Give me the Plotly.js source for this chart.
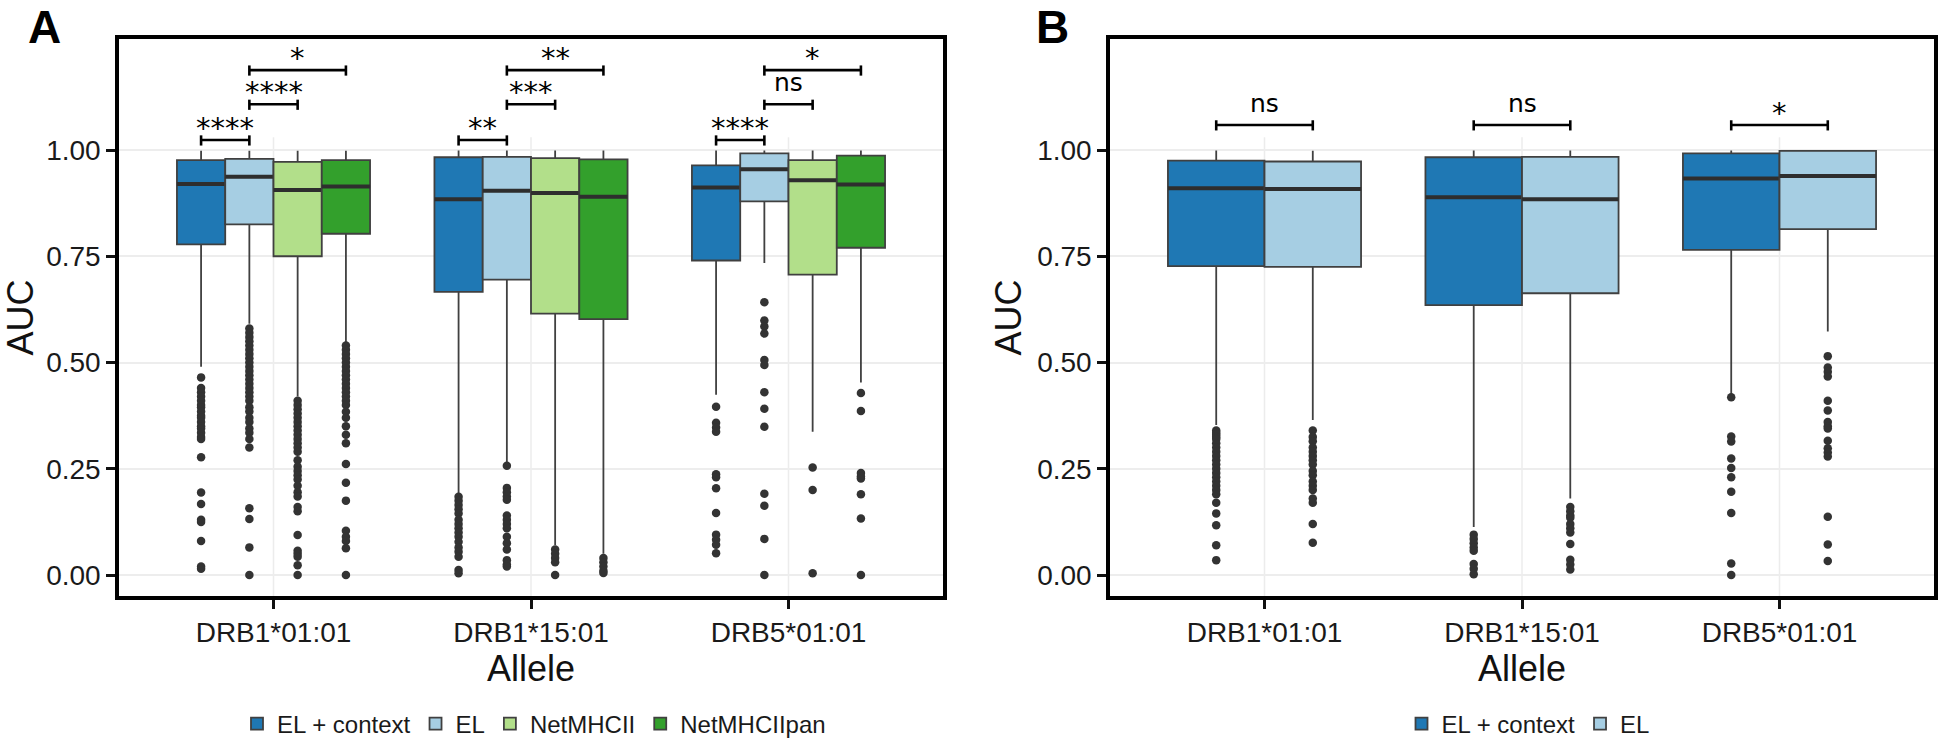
<!DOCTYPE html>
<html><head><meta charset="utf-8">
<script src="https://cdn.plot.ly/plotly-3.0.1.min.js"></script>
<style>html,body{margin:0;padding:0;background:#fff}#chart{width:1938px;height:739px}</style>
</head><body><div id="chart"></div>
<script>
// ---------- data ----------
const alleles = ['DRB1*01:01', 'DRB1*15:01', 'DRB5*01:01'];
const methodsA = ['EL + context', 'EL', 'NetMHCII', 'NetMHCIIpan'];
const methodsB = ['EL + context', 'EL'];

// Panel A box statistics: rows = methodsA, columns = alleles
const A_lower  = [[0.490, 0.190, 0.424], [0.591, 0.260, 0.734], [0.420, 0.070, 0.337], [0.536, 0.050, 0.453]];
const A_q1     = [[0.778, 0.666, 0.740], [0.825, 0.695, 0.879], [0.750, 0.615, 0.707], [0.803, 0.602, 0.770]];
const A_median = [[0.920, 0.884, 0.912], [0.937, 0.904, 0.955], [0.906, 0.899, 0.929], [0.914, 0.890, 0.919]];
const A_q3     = [[0.976, 0.983, 0.964], [0.979, 0.984, 0.992], [0.972, 0.981, 0.976], [0.976, 0.978, 0.987]];
const A_upper  = [[0.998, 0.999, 0.999], [0.998, 0.999, 0.999], [0.998, 0.999, 0.999], [0.998, 0.999, 0.999]];

// Panel A outliers: per method, per allele
const A_out_ELctx = [
  [0.465, 0.44, 0.43, 0.42, 0.41, 0.40, 0.395, 0.385, 0.375, 0.37, 0.36, 0.35, 0.345, 0.335, 0.325, 0.32, 0.277, 0.194, 0.167, 0.13, 0.125, 0.08, 0.02, 0.015],
  [0.184, 0.175, 0.165, 0.155, 0.145, 0.13, 0.12, 0.11, 0.10, 0.09, 0.078, 0.065, 0.055, 0.043, 0.012, 0.004],
  [0.396, 0.358, 0.347, 0.337, 0.237, 0.23, 0.204, 0.146, 0.095, 0.083, 0.071, 0.051]
];
const A_out_EL = [
  [0.58, 0.57, 0.56, 0.55, 0.54, 0.53, 0.52, 0.51, 0.50, 0.49, 0.48, 0.47, 0.46, 0.45, 0.44, 0.43, 0.42, 0.41, 0.395, 0.385, 0.37, 0.36, 0.345, 0.335, 0.32, 0.30, 0.157, 0.132, 0.065, 0.0],
  [0.257, 0.205, 0.195, 0.185, 0.177, 0.14, 0.13, 0.12, 0.11, 0.09, 0.075, 0.06, 0.035, 0.025, 0.02],
  [0.642, 0.599, 0.585, 0.568, 0.506, 0.494, 0.43, 0.391, 0.349, 0.191, 0.163, 0.085, 0.0]
];
const A_out_NetMHCII = [
  [0.41, 0.40, 0.39, 0.38, 0.37, 0.36, 0.35, 0.34, 0.33, 0.32, 0.31, 0.30, 0.29, 0.27, 0.255, 0.245, 0.235, 0.225, 0.21, 0.195, 0.185, 0.16, 0.15, 0.094, 0.057, 0.05, 0.043, 0.023, 0.0],
  [0.06, 0.05, 0.04, 0.03, 0.0],
  [0.253, 0.20, 0.004]
];
const A_out_NetMHCIIpan = [
  [0.54, 0.53, 0.52, 0.51, 0.50, 0.49, 0.48, 0.47, 0.46, 0.45, 0.44, 0.43, 0.42, 0.41, 0.40, 0.384, 0.37, 0.35, 0.33, 0.31, 0.261, 0.217, 0.175, 0.104, 0.09, 0.08, 0.063, 0.0],
  [0.04, 0.03, 0.02, 0.01, 0.005],
  [0.428, 0.386, 0.24, 0.232, 0.227, 0.19, 0.133, 0.0]
];

// Panel B box statistics: rows = methodsB, columns = alleles
const B_lower  = [[0.353, 0.113, 0.424], [0.365, 0.180, 0.573]];
const B_q1     = [[0.727, 0.635, 0.765], [0.725, 0.663, 0.814]];
const B_median = [[0.910, 0.889, 0.933], [0.908, 0.884, 0.939]];
const B_q3     = [[0.975, 0.983, 0.992], [0.973, 0.984, 0.998]];
const B_upper  = [[0.999, 0.999, 0.999], [0.998, 0.999, 1.000]];

const B_out_ELctx = [
  [0.34, 0.335, 0.33, 0.325, 0.32, 0.31, 0.30, 0.29, 0.28, 0.27, 0.26, 0.25, 0.24, 0.23, 0.22, 0.21, 0.20, 0.19, 0.17, 0.145, 0.117, 0.07, 0.035],
  [0.095, 0.085, 0.075, 0.065, 0.057, 0.026, 0.015, 0.002],
  [0.418, 0.326, 0.314, 0.274, 0.252, 0.23, 0.196, 0.146, 0.027, 0.0]
];
const B_out_EL = [
  [0.34, 0.325, 0.315, 0.30, 0.29, 0.28, 0.27, 0.26, 0.245, 0.235, 0.22, 0.21, 0.20, 0.18, 0.17, 0.12, 0.076],
  [0.16, 0.15, 0.14, 0.135, 0.12, 0.11, 0.10, 0.073, 0.036, 0.025, 0.013],
  [0.515, 0.488, 0.478, 0.467, 0.41, 0.387, 0.36, 0.35, 0.345, 0.316, 0.298, 0.288, 0.279, 0.137, 0.072, 0.033]
];

// significance labels
const A_pairs = [[0, 1], [1, 2], [1, 3]];
const A_sig = [['****', '****', '*'], ['**', '***', '**'], ['****', 'ns', '*']];
const A_levels = [1.0235, 1.1075, 1.188];
const B_pairs = [[0, 1]];
const B_sig = [['ns'], ['ns'], ['*']];
const B_levels = [1.059];

// ---------- styles ----------
const colorsA = ['#1f78b4', '#a6cee3', '#b2df8a', '#33a02c'];
const colorsB = ['#1f78b4', '#a6cee3'];
const FONT = 'Liberation Sans, Arial, Helvetica, sans-serif';
const SIGFONT = 'DejaVu Sans, Verdana, sans-serif';
const W = 1938, H = 739;
const GAP = 0.25;

const traces = [];
const shapes = [];
const annotations = [];

function addPanel(methods, colors, lower, q1, med, q3, upper, outs, xa, ya, legendId) {
  methods.forEach((m, k) => {
    traces.push({
      type: 'box', x: alleles, q1: q1[k], median: med[k], q3: q3[k],
      lowerfence: lower[k], upperfence: upper[k],
      name: m, offsetgroup: m, legend: legendId, xaxis: xa, yaxis: ya,
      fillcolor: colors[k], line: {color: '#404040', width: 1.8},
      boxpoints: false, whiskerwidth: 0, hoverinfo: 'y'
    });
    // thicker median line overlay
    traces.push({
      type: 'box', x: alleles, q1: med[k], median: med[k], q3: med[k],
      lowerfence: med[k], upperfence: med[k],
      name: m, offsetgroup: m, showlegend: false, legend: legendId, xaxis: xa, yaxis: ya,
      fillcolor: 'rgba(0,0,0,0)', line: {color: '#2e2e2e', width: 4},
      boxpoints: false, whiskerwidth: 0, hoverinfo: 'skip'
    });
  });
  methods.forEach((m, k) => {
    const xs = [], ys = [];
    outs[k].forEach((vals, g) => vals.forEach(v => { xs.push(alleles[g]); ys.push(v); }));
    traces.push({
      type: 'scatter', mode: 'markers', x: xs, y: ys, offsetgroup: m,
      name: m, showlegend: false, xaxis: xa, yaxis: ya,
      marker: {color: '#333333', size: 8.5}, hoverinfo: 'y'
    });
  });
}

function addBrackets(nMethods, pairs, sig, levels, xa, ya) {
  const slot = (1 - GAP) / nMethods;
  const off = i => (i - (nMethods - 1) / 2) * slot;
  alleles.forEach((a, g) => {
    pairs.forEach((p, j) => {
      const x0 = g + off(p[0]), x1 = g + off(p[1]), y = levels[j];
      const ln = {color: '#000', width: 2.6};
      shapes.push({type: 'line', xref: xa, yref: ya, x0: x0, x1: x1, y0: y, y1: y, line: ln});
      shapes.push({type: 'line', xref: xa, yref: ya, x0: x0, x1: x0, y0: y - 0.013, y1: y + 0.011, line: ln});
      shapes.push({type: 'line', xref: xa, yref: ya, x0: x1, x1: x1, y0: y - 0.013, y1: y + 0.011, line: ln});
      const lab = sig[g][j];
      const isStar = lab.indexOf('*') >= 0;
      annotations.push({
        xref: xa, yref: ya, x: (x0 + x1) / 2, y: y, text: lab, showarrow: false,
        xanchor: 'center', yanchor: 'bottom', yshift: isStar ? -7 : 5,
        font: {family: SIGFONT, size: isStar ? 29 : 25, color: '#000'}
      });
    });
    // vertical grid line at the category, limited to the data panel
    shapes.push({type: 'line', xref: xa, yref: ya, x0: g, x1: g, y0: -0.0494, y1: 1.03,
                 layer: 'below', line: {color: '#ececec', width: 1.5}});
  });
}

addPanel(methodsA, colorsA, A_lower, A_q1, A_median, A_q3, A_upper,
         [A_out_ELctx, A_out_EL, A_out_NetMHCII, A_out_NetMHCIIpan], 'x', 'y', 'legend');
addPanel(methodsB, colorsB, B_lower, B_q1, B_median, B_q3, B_upper,
         [B_out_ELctx, B_out_EL], 'x2', 'y2', 'legend2');
addBrackets(4, A_pairs, A_sig, A_levels, 'x', 'y');
addBrackets(2, B_pairs, B_sig, B_levels, 'x2', 'y2');

annotations.push({xref: 'paper', yref: 'paper', x: 44 / W, y: 1, xanchor: 'center', yanchor: 'top', yshift: 1,
  text: '<b>A</b>', showarrow: false, font: {family: FONT, size: 46, color: '#000'}});
annotations.push({xref: 'paper', yref: 'paper', x: 1052 / W, y: 1, xanchor: 'center', yanchor: 'top', yshift: 1,
  text: '<b>B</b>', showarrow: false, font: {family: FONT, size: 46, color: '#000'}});

function xAxis(domain, anchor) {
  return {
    domain: domain, anchor: anchor, type: 'category', categoryarray: alleles, categoryorder: 'array',
    range: [-0.6, 2.6], showline: true, mirror: true, linecolor: '#000', linewidth: 3.5,
    ticks: 'outside', ticklen: 9, tickwidth: 3, tickcolor: '#111', showgrid: false, zeroline: false,
    tickfont: {family: FONT, size: 28, color: '#1a1a1a'},
    title: {text: 'Allele', font: {family: FONT, size: 36, color: '#111'}, standoff: 8},
    automargin: false, fixedrange: true
  };
}
function yAxis(anchor) {
  return {
    domain: [143 / H, 700 / H], anchor: anchor, range: [-0.0494, 1.2612],
    tickvals: [0, 0.25, 0.5, 0.75, 1], tickformat: '.2f',
    showline: true, mirror: true, linecolor: '#000', linewidth: 3.5,
    ticks: 'outside', ticklen: 9, tickwidth: 3, tickcolor: '#111',
    showgrid: true, gridcolor: '#ededed', gridwidth: 1.5, zeroline: false,
    tickfont: {family: FONT, size: 28, color: '#1a1a1a'},
    title: {text: 'AUC', font: {family: FONT, size: 36, color: '#111'}, standoff: 6},
    automargin: false, fixedrange: true
  };
}

const legendStyle = (xc) => ({
  orientation: 'h', xref: 'container', yref: 'container',
  x: xc / W, xanchor: 'center', y: 15 / H, yanchor: 'middle',
  font: {family: FONT, size: 24, color: '#1a1a1a'}, bgcolor: 'rgba(0,0,0,0)',
  itemwidth: 30, tracegroupgap: 0, itemclick: false, itemdoubleclick: false
});

const layout = {
  width: W, height: H, margin: {l: 0, r: 0, t: 0, b: 0, autoexpand: false},
  paper_bgcolor: '#fff', plot_bgcolor: '#fff',
  font: {family: FONT, color: '#1a1a1a'},
  boxmode: 'group', boxgap: GAP, boxgroupgap: 0,
  scattermode: 'group', scattergap: GAP,
  xaxis: xAxis([119 / W, 943 / W], 'y'),
  yaxis: yAxis('x'),
  xaxis2: xAxis([1110 / W, 1934 / W], 'y2'),
  yaxis2: yAxis('x2'),
  legend: legendStyle(534),
  legend2: legendStyle(1528),
  shapes: shapes, annotations: annotations,
  hovermode: 'closest'
};

Plotly.newPlot('chart', traces, layout, {displayModeBar: false, staticPlot: false});
</script>
</body></html>
